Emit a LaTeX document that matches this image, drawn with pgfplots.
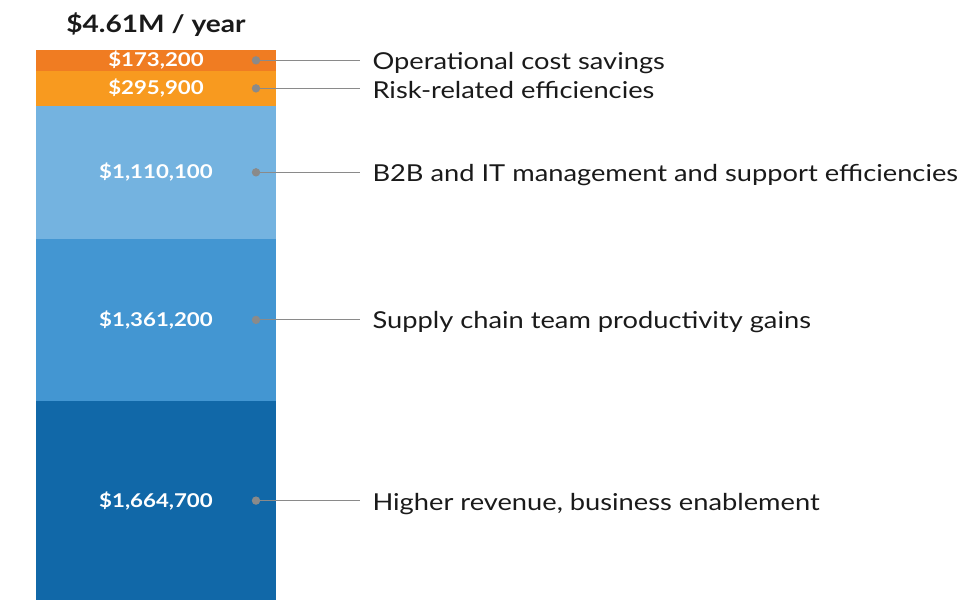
\documentclass[border=0pt]{standalone}
\usepackage{pgfplots}
\pgfplotsset{compat=1.18}
\usepackage{fontspec}
\setmainfont[FakeStretch=1.17]{Lato}

\definecolor{segA}{HTML}{1168A8}
\definecolor{segB}{HTML}{4396D2}
\definecolor{segC}{HTML}{74B3E0}
\definecolor{segD}{HTML}{F89A1F}
\definecolor{segE}{HTML}{F07C22}
\definecolor{leader}{HTML}{8A8A8A}
\definecolor{txt}{HTML}{1A1A1A}

\begin{document}
\begin{tikzpicture}
\begin{axis}[
  scale only axis, width=971pt, height=600pt,
  xmin=0, xmax=971, ymin=0, ymax=5024,
  hide axis, clip=false,
  ybar stacked, bar width=240pt,
]
% keep the whole 971x600 canvas as the page
\path (rel axis cs:0,0) rectangle (rel axis cs:1,1);
% values in thousands of dollars
\addplot[fill=segA, draw=none] coordinates {(156,1664.7)};
\addplot[fill=segB, draw=none] coordinates {(156,1361.2)};
\addplot[fill=segC, draw=none] coordinates {(156,1110.1)};
\addplot[fill=segD, draw=none] coordinates {(156,295.9)};
\addplot[fill=segE, draw=none] coordinates {(156,173.2)};
\end{axis}
\begin{axis}[
  scale only axis, width=971pt, height=600pt,
  xmin=0, xmax=971, ymin=0, ymax=5024,
  hide axis, clip=false,
]
% leader lines from the segment centres to the labels
\pgfplotsinvokeforeach{832.35,2345.3,3580.95,4283.95,4518.5}{
  \addplot[leader, line width=1.1pt, mark=*, mark size=3.6pt, mark indices={1}, mark options={fill=leader, draw=leader}]
    coordinates {(256,#1) (360,#1)};
}
\tikzset{val/.style={text=white, font=\bfseries\fontsize{19}{21}\selectfont},
         lab/.style={anchor=west, text=txt, font=\fontsize{23.3}{25}\selectfont}}
\node[val] at (axis cs:156,832.35) {\$1,664,700};
\node[val] at (axis cs:156,2345.3) {\$1,361,200};
\node[val] at (axis cs:156,3580.95) {\$1,110,100};
\node[val] at (axis cs:156,4283.95) {\$295,900};
\node[val] at (axis cs:156,4518.5) {\$173,200};
\node[lab] at (axis cs:369,807) {Higher revenue, business enablement};
\node[lab] at (axis cs:369,2325) {Supply chain team productivity gains};
\node[lab] at (axis cs:369,3560) {B2B and IT management and support efficiencies};
\node[lab] at (axis cs:369,4270) {Risk-related efficiencies};
\node[lab] at (axis cs:369,4500) {Operational cost savings};
\node[text=txt, font=\bfseries\fontsize{24}{26}\selectfont] at (axis cs:156,4814) {\$4.61M / year};
\end{axis}
\end{tikzpicture}
\end{document}
